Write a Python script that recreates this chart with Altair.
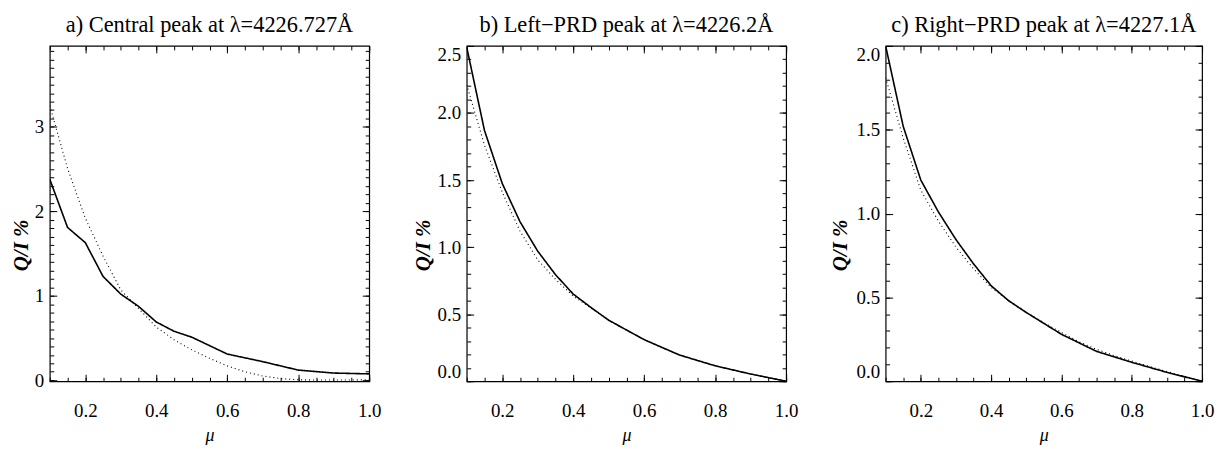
import altair as alt
import pandas as pd

FONT = "Liberation Serif"

# mu sampling
mu_solid = [0.1, 0.15, 0.2, 0.25, 0.3, 0.35, 0.4, 0.45, 0.5, 0.6, 0.7, 0.8, 0.9, 1.0]
mu_dotted = [0.1, 0.15, 0.2, 0.25, 0.3, 0.35, 0.4, 0.45, 0.5, 0.55,
             0.6, 0.65, 0.7, 0.75, 0.8, 0.85, 0.9, 0.95, 1.0]

# panel a) central peak
qi_a_solid = [2.38, 1.81, 1.63, 1.23, 1.02, 0.875, 0.69, 0.58, 0.51, 0.31, 0.22, 0.12, 0.085, 0.075]
qi_a_dotted = [3.25, 2.51, 1.92, 1.47, 1.07, 0.85, 0.63, 0.48, 0.36, 0.26,
               0.17, 0.10, 0.05, 0.02, 0.005, 0.003, 0.003, 0.003, 0.005]
# panel b) left PRD peak
qi_b_solid = [2.49, 1.87, 1.475, 1.19, 0.97, 0.795, 0.65, 0.55, 0.455, 0.31, 0.195, 0.115, 0.054, 0.0]
qi_b_dotted = [2.21, 1.76, 1.41, 1.12, 0.905, 0.76, 0.635, 0.545, 0.455, 0.38,
               0.31, 0.25, 0.195, 0.155, 0.115, 0.083, 0.054, 0.027, 0.0]
# panel c) right PRD peak
qi_c_solid = [2.0, 1.52, 1.20, 1.01, 0.845, 0.70, 0.57, 0.48, 0.41, 0.28, 0.178, 0.113, 0.053, 0.0]
qi_c_dotted = [1.81, 1.45, 1.14, 0.955, 0.80, 0.67, 0.56, 0.48, 0.41, 0.35,
               0.29, 0.235, 0.19, 0.153, 0.12, 0.088, 0.058, 0.028, 0.0]

titles = ["a) Central peak at \u03bb=4226.727\u00c5",
          "b) Left\u2212PRD peak at \u03bb=4226.2\u00c5",
          "c) Right\u2212PRD peak at \u03bb=4227.1\u00c5"]

x_labels = [0.2, 0.4, 0.6, 0.8, 1.0]
x_minor = [round(0.1 + 0.05 * i, 2) for i in range(19)]
ya_major = [0, 1, 2, 3]
ya_minor = [round(0.1 * i, 1) for i in range(40)]
yb_major = [0.0, 0.5, 1.0, 1.5, 2.0, 2.5]
yb_minor = [round(0.1 * i, 1) for i in range(26)]
yc_major = [0.0, 0.5, 1.0, 1.5, 2.0]
yc_minor = [round(0.1 * i, 1) for i in range(21)]


def build_df(solid, dotted):
    rows = [{"mu": m, "qi": v, "series": "solid"} for m, v in zip(mu_solid, solid)]
    rows += [{"mu": m, "qi": v, "series": "dotted"} for m, v in zip(mu_dotted, dotted)]
    return pd.DataFrame(rows)


def panel(df, title, ydom, ymajor, yminor, yfmt, title_offset, ytitle_pad, w):
    xs = alt.Scale(domain=[0.1, 1.0], nice=False, zero=False)
    ys = alt.Scale(domain=ydom, nice=False, zero=False)
    base = alt.Chart(df)
    dash = alt.StrokeDash("series:N",
                          scale=alt.Scale(domain=["solid", "dotted"], range=[[1, 0], [1, 3]]),
                          legend=None)
    sw = alt.StrokeWidth("series:N",
                         scale=alt.Scale(domain=["solid", "dotted"], range=[1.6, 1.1]),
                         legend=None)
    main = base.mark_line(color="black", clip=True).encode(
        x=alt.X("mu:Q", scale=xs, axis=alt.Axis(
            orient="bottom", values=x_labels, format=".1f", ticks=False, domain=False,
            grid=False, labelFlush=False, labelPadding=20, labelFont=FONT, labelFontSize=19,
            labelColor="black", title="\u03bc", titleFont=FONT, titleFontStyle="italic",
            titleFontSize=18, titleFontWeight="normal", titlePadding=7, titleColor="black")),
        y=alt.Y("qi:Q", scale=ys, axis=alt.Axis(
            orient="left", values=ymajor, format=yfmt, ticks=False, domain=False,
            grid=False, labelFlush=True, labelPadding=6, labelFont=FONT, labelFontSize=19,
            labelColor="black", title="Q/I %", titleFont=FONT, titleFontStyle="italic",
            titleFontSize=21, titleFontWeight="bold", titlePadding=ytitle_pad,
            titleY=200, titleColor="black")),
        strokeDash=dash, strokeWidth=sw, detail="series:N")

    def tick_layer(xv, yv, xo, yo, size):
        return base.mark_line(opacity=0).encode(
            x=alt.X("mu:Q", scale=xs, axis=alt.Axis(
                orient=xo, values=xv, labels=False, domain=False, grid=False,
                tickSize=size, offset=-size, tickColor="black", tickWidth=1, title=None,
                minExtent=0, maxExtent=0)),
            y=alt.Y("qi:Q", scale=ys, axis=alt.Axis(
                orient=yo, values=yv, labels=False, domain=False, grid=False,
                tickSize=size, offset=-size, tickColor="black", tickWidth=1, title=None,
                minExtent=0, maxExtent=0)),
            detail="series:N")

    layers = [
        main,
        tick_layer(x_labels, ymajor, "bottom", "left", 7),
        tick_layer(x_labels, ymajor, "top", "right", 7),
        tick_layer(x_minor, yminor, "bottom", "left", 4),
        tick_layer(x_minor, yminor, "top", "right", 4),
    ]
    return alt.layer(*layers).resolve_axis(x="independent", y="independent").properties(
        width=w, height=337,
        title=alt.TitleParams(text=title, font=FONT, fontSize=22.5, fontWeight="normal",
                              color="black", offset=title_offset, anchor="middle"))


pa = panel(build_df(qi_a_solid, qi_a_dotted), titles[0], [-0.012, 3.96], ya_major, ya_minor,
           "d", 8.5, 3, 321)
pb = panel(build_df(qi_b_solid, qi_b_dotted), titles[1], [0.0, 2.5], yb_major, yb_minor,
           ".1f", 8.5, 3.5, 321)
pc = panel(build_df(qi_c_solid, qi_c_dotted), titles[2], [0.0, 2.0], yc_major, yc_minor,
           ".1f", 8.5, 5.5, 318)

chart = alt.concat(pa, pb, pc, columns=3, spacing=30, align="none").properties(
    padding={"left": 1, "top": 4, "right": 0, "bottom": 0}
).configure_view(stroke="black", strokeWidth=1.2)

chart.save("out.html", embed_options={"renderer": "svg", "actions": False})
